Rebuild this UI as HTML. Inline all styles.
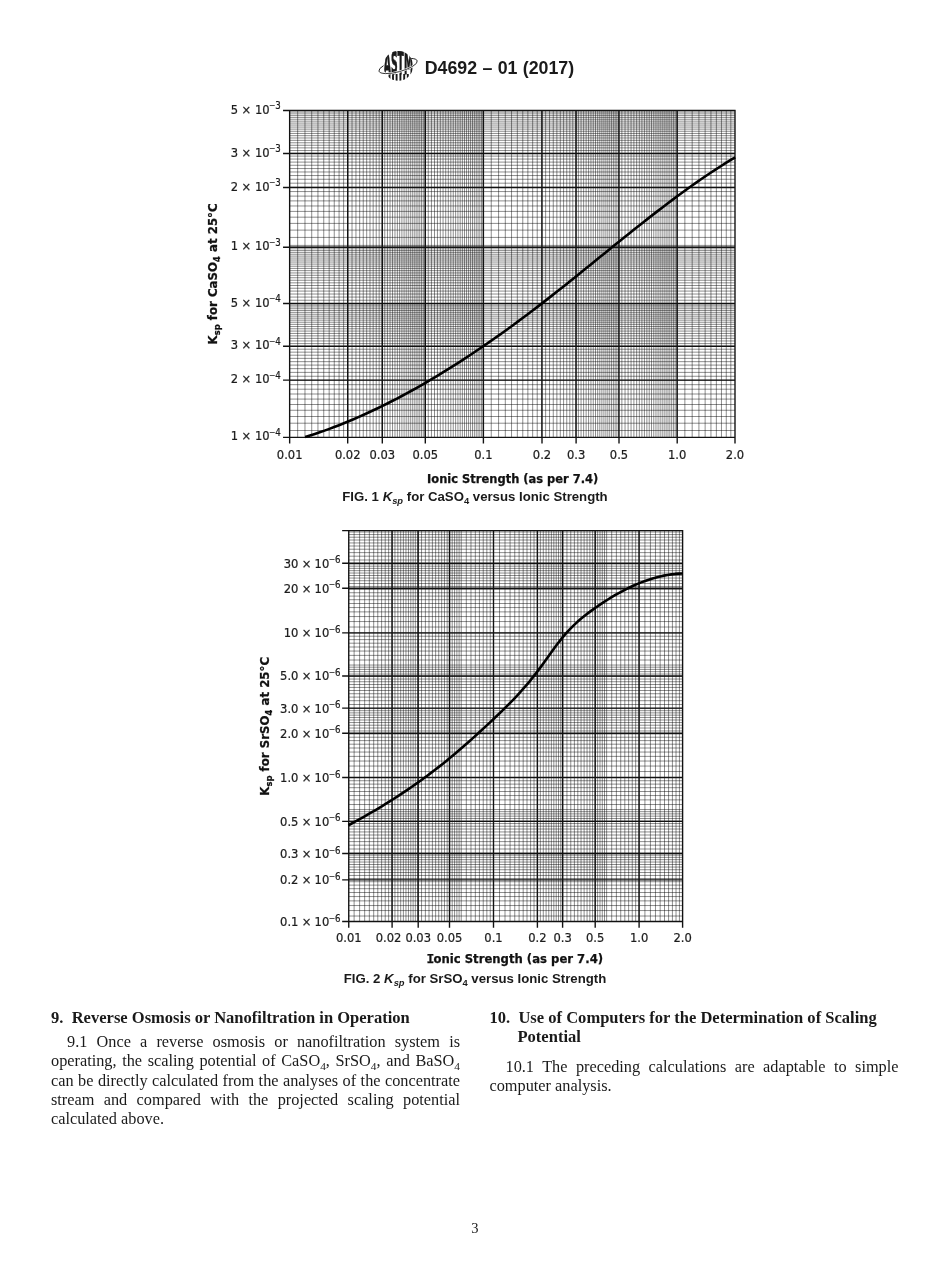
<!DOCTYPE html>
<html lang="en">
<head>
<meta charset="utf-8">
<title>D4692 - 01 (2017)</title>
<style>
html,body{margin:0;padding:0;background:#fff;}
body{width:950px;height:1272px;position:relative;overflow:hidden;font-family:"Liberation Serif",serif;color:#1a1a1a;}
.figs{position:absolute;left:0;top:0;}
.tk{font-family:"DejaVu Sans Condensed","DejaVu Sans","Liberation Sans",sans-serif;font-size:12.8px;fill:#1c1c1c;stroke:#1c1c1c;stroke-width:0.22px;}
.sp{font-size:9.6px;}
.mn{font-family:"Liberation Sans",sans-serif;}
.mi{font-family:"DejaVu Sans Mono","DejaVu Sans",sans-serif;}
.sb{font-size:9.4px;}
.ax{font-family:"DejaVu Sans Condensed","DejaVu Sans","Liberation Sans",sans-serif;font-weight:bold;font-size:13.1px;fill:#111;stroke:#111;stroke-width:0.25px;}
.hdr{position:absolute;left:424.7px;top:57.6px;word-spacing:0.4px;font-family:"Liberation Sans",sans-serif;font-weight:bold;font-size:17.8px;line-height:20px;white-space:nowrap;color:#1a1a1a;}
.logo{position:absolute;left:374px;top:48px;width:50px;height:36px;line-height:0;}
.cap{position:absolute;left:0;width:950px;text-align:center;font-family:"Liberation Sans",sans-serif;font-weight:bold;font-size:13.2px;line-height:14px;color:#1a1a1a;white-space:nowrap;}
.cap sub{font-size:9.4px;vertical-align:baseline;position:relative;top:2.5px;line-height:0;}
.col{position:absolute;font-size:16.3px;line-height:19.2px;}
.col h2{margin:0;font-size:16.55px;line-height:19.2px;font-weight:bold;}
.col p{margin:0;}
.ln{display:block;text-align:justify;text-align-last:justify;white-space:nowrap;}
.ln.last{text-align-last:left;}
.col sub{font-size:11.4px;vertical-align:baseline;position:relative;top:3.5px;line-height:0;}
.pg{position:absolute;left:0;width:949.6px;top:1220.6px;text-align:center;font-size:14.5px;line-height:15px;}
</style>
</head>
<body>
<div class="logo"><svg width="50" height="36" viewBox="374 48 50 36">
<defs><clipPath id="gl"><ellipse cx="398.3" cy="65.9" rx="14.7" ry="14.9"/></clipPath></defs>
<ellipse cx="398.1" cy="66.0" rx="19.8" ry="5.8" transform="rotate(-15 398.1 66.0)" fill="none" stroke="#222" stroke-width="0.9"/>
<ellipse cx="398.3" cy="65.9" rx="14.7" ry="14.9" fill="#fff"/>
<g clip-path="url(#gl)">
<text x="383.8" y="74.2" textLength="29.3" lengthAdjust="spacingAndGlyphs" font-family="'DejaVu Sans Condensed','DejaVu Sans','Liberation Sans',sans-serif" font-weight="bold" font-size="32" fill="#1a1a1a" stroke="#1a1a1a" stroke-width="0.9">ASTM</text>
<path d="M389.5 74V82M393 74V82M396.6 74V82M400.4 74V82M404.2 74V82M407.8 74V82" stroke="#1a1a1a" stroke-width="1.9" fill="none"/>
</g>
<path d="M378.97 71.12A19.8 5.8 -15 0 0 417.23 60.88" fill="none" stroke="#fff" stroke-width="2.2"/>
<path d="M378.97 71.12A19.8 5.8 -15 0 0 417.23 60.88" fill="none" stroke="#222" stroke-width="0.9"/>
</svg>
</div>
<div class="hdr">D4692 – 01 (2017)</div>
<svg class="figs" width="950" height="1000" viewBox="0 0 950 1000">
<g shape-rendering="auto">
<path d="M297.66 110.5V437.4M304.98 110.5V437.4M311.71 110.5V437.4M317.94 110.5V437.4M323.74 110.5V437.4M329.17 110.5V437.4M334.26 110.5V437.4M339.07 110.5V437.4M343.62 110.5V437.4M347.93 110.5V437.4M352.03 110.5V437.4M355.94 110.5V437.4M359.68 110.5V437.4M363.26 110.5V437.4M366.69 110.5V437.4M369.99 110.5V437.4M373.16 110.5V437.4M376.22 110.5V437.4M379.17 110.5V437.4M382.02 110.5V437.4M384.78 110.5V437.4M387.45 110.5V437.4M390.03 110.5V437.4M392.54 110.5V437.4M394.98 110.5V437.4M397.35 110.5V437.4M399.65 110.5V437.4M401.9 110.5V437.4M404.08 110.5V437.4M406.21 110.5V437.4M408.28 110.5V437.4M410.31 110.5V437.4M412.29 110.5V437.4M414.22 110.5V437.4M416.11 110.5V437.4M417.96 110.5V437.4M419.77 110.5V437.4M421.54 110.5V437.4M423.27 110.5V437.4M424.97 110.5V437.4M428.27 110.5V437.4M431.44 110.5V437.4M434.5 110.5V437.4M437.45 110.5V437.4M440.3 110.5V437.4M443.06 110.5V437.4M445.73 110.5V437.4M448.31 110.5V437.4M450.82 110.5V437.4M453.26 110.5V437.4M455.63 110.5V437.4M457.93 110.5V437.4M460.18 110.5V437.4M462.36 110.5V437.4M464.49 110.5V437.4M466.56 110.5V437.4M468.59 110.5V437.4M470.57 110.5V437.4M472.5 110.5V437.4M474.39 110.5V437.4M476.24 110.5V437.4M478.05 110.5V437.4M479.82 110.5V437.4M481.55 110.5V437.4M483.25 110.5V437.4M491.26 110.5V437.4M498.58 110.5V437.4M505.31 110.5V437.4M511.54 110.5V437.4M517.34 110.5V437.4M522.77 110.5V437.4M527.86 110.5V437.4M532.67 110.5V437.4M537.22 110.5V437.4M541.53 110.5V437.4M545.63 110.5V437.4M549.54 110.5V437.4M553.28 110.5V437.4M556.86 110.5V437.4M560.29 110.5V437.4M563.59 110.5V437.4M566.76 110.5V437.4M569.82 110.5V437.4M572.77 110.5V437.4M575.62 110.5V437.4M578.38 110.5V437.4M581.05 110.5V437.4M583.63 110.5V437.4M586.14 110.5V437.4M588.58 110.5V437.4M590.95 110.5V437.4M593.25 110.5V437.4M595.5 110.5V437.4M597.68 110.5V437.4M599.81 110.5V437.4M601.88 110.5V437.4M603.91 110.5V437.4M605.89 110.5V437.4M607.82 110.5V437.4M609.71 110.5V437.4M611.56 110.5V437.4M613.37 110.5V437.4M615.14 110.5V437.4M616.87 110.5V437.4M618.57 110.5V437.4M621.87 110.5V437.4M625.04 110.5V437.4M628.1 110.5V437.4M631.05 110.5V437.4M633.9 110.5V437.4M636.66 110.5V437.4M639.33 110.5V437.4M641.91 110.5V437.4M644.42 110.5V437.4M646.86 110.5V437.4M649.23 110.5V437.4M651.53 110.5V437.4M653.78 110.5V437.4M655.96 110.5V437.4M658.09 110.5V437.4M660.16 110.5V437.4M662.19 110.5V437.4M664.17 110.5V437.4M666.1 110.5V437.4M667.99 110.5V437.4M669.84 110.5V437.4M671.65 110.5V437.4M673.42 110.5V437.4M675.15 110.5V437.4M676.85 110.5V437.4M684.86 110.5V437.4M692.18 110.5V437.4M698.91 110.5V437.4M705.14 110.5V437.4M710.94 110.5V437.4M716.37 110.5V437.4M721.46 110.5V437.4M726.27 110.5V437.4M730.82 110.5V437.4M289.65 430.51H735M289.65 423.21H735M289.65 416.5H735M289.65 410.28H735M289.65 404.5H735M289.65 399.08H735M289.65 394H735M289.65 389.21H735M289.65 384.67H735M289.65 380.37H735M289.65 376.28H735M289.65 372.38H735M289.65 368.65H735M289.65 365.08H735M289.65 361.66H735M289.65 358.37H735M289.65 355.2H735M289.65 352.15H735M289.65 349.21H735M289.65 346.37H735M289.65 343.62H735M289.65 340.96H735M289.65 338.37H735M289.65 335.87H735M289.65 333.44H735M289.65 331.08H735M289.65 328.78H735M289.65 326.54H735M289.65 324.37H735M289.65 322.24H735M289.65 320.17H735M289.65 318.15H735M289.65 316.18H735M289.65 314.25H735M289.65 312.36H735M289.65 310.52H735M289.65 308.72H735M289.65 306.95H735M289.65 305.22H735M289.65 303.53H735M289.65 300.24H735M289.65 297.07H735M289.65 294.02H735M289.65 291.08H735M289.65 288.24H735M289.65 285.49H735M289.65 282.83H735M289.65 280.25H735M289.65 277.74H735M289.65 275.31H735M289.65 272.95H735M289.65 270.65H735M289.65 268.41H735M289.65 266.24H735M289.65 264.11H735M289.65 262.04H735M289.65 260.02H735M289.65 258.05H735M289.65 256.12H735M289.65 254.24H735M289.65 252.39H735M289.65 250.59H735M289.65 248.82H735M289.65 247.09H735M289.65 245.4H735M289.65 237.41H735M289.65 230.11H735M289.65 223.4H735M289.65 217.18H735M289.65 211.4H735M289.65 205.98H735M289.65 200.9H735M289.65 196.11H735M289.65 191.57H735M289.65 187.27H735M289.65 183.18H735M289.65 179.28H735M289.65 175.55H735M289.65 171.98H735M289.65 168.56H735M289.65 165.27H735M289.65 162.1H735M289.65 159.05H735M289.65 156.11H735M289.65 153.27H735M289.65 150.52H735M289.65 147.86H735M289.65 145.27H735M289.65 142.77H735M289.65 140.34H735M289.65 137.98H735M289.65 135.68H735M289.65 133.44H735M289.65 131.27H735M289.65 129.14H735M289.65 127.07H735M289.65 125.05H735M289.65 123.08H735M289.65 121.15H735M289.65 119.26H735M289.65 117.42H735M289.65 115.62H735M289.65 113.85H735M289.65 112.12H735" fill="none" stroke="#000" stroke-width="0.45"/>
<path d="M289.65 109.9V443.4M347.7 109.9V443.4M382.3 109.9V443.4M425.3 109.9V443.4M483.4 109.9V443.4M542 109.9V443.4M576.1 109.9V443.4M619 109.9V443.4M677.2 109.9V443.4M735 109.9V443.4M283.05 437.4H735.6M283.05 380.1H735.6M283.05 346.3H735.6M283.05 303.5H735.6M283.05 247.3H735.6M283.05 187.5H735.6M283.05 153.5H735.6M283.05 110.5H735.6" fill="none" stroke="#111" stroke-width="1.38"/>
<path d="M305.2 437.09L310.03 435.56L314.86 433.97L319.69 432.33L324.53 430.63L329.36 428.87L334.19 427.05L339.02 425.18L343.85 423.25L348.68 421.26L353.51 419.23L358.35 417.13L363.18 414.99L368.01 412.79L372.84 410.54L377.67 408.24L382.5 405.89L387.33 403.49L392.17 401.03L397 398.53L401.83 395.98L406.66 393.39L411.49 390.74L416.32 388.05L421.16 385.31L425.99 382.52L430.82 379.69L435.65 376.82L440.48 373.9L445.31 370.93L450.14 367.93L454.98 364.88L459.81 361.79L464.64 358.66L469.47 355.49L474.3 352.27L479.13 349.02L483.96 345.73L488.8 342.4L493.63 339.03L498.46 335.63L503.29 332.19L508.12 328.71L512.95 325.19L517.78 321.65L522.62 318.06L527.45 314.45L532.28 310.79L537.11 307.11L541.94 303.4L546.77 299.65L551.6 295.87L556.44 292.07L561.27 288.24L566.1 284.4L570.93 280.53L575.76 276.65L580.59 272.76L585.42 268.85L590.26 264.94L595.09 261.02L599.92 257.11L604.75 253.19L609.58 249.27L614.41 245.36L619.24 241.46L624.08 237.57L628.91 233.7L633.74 229.84L638.57 226L643.4 222.18L648.23 218.38L653.07 214.62L657.9 210.88L662.73 207.17L667.56 203.51L672.39 199.87L677.22 196.28L682.05 192.74L686.89 189.23L691.72 185.78L696.55 182.38L701.38 179.03L706.21 175.74L711.04 172.51L715.87 169.34L720.71 166.23L725.54 163.2L730.37 160.23L735.2 157.33" fill="none" stroke="#000" stroke-width="2.6" stroke-linejoin="round"/>
<path d="M354.12 530.6V921.5M359.61 530.6V921.5M364.67 530.6V921.5M369.35 530.6V921.5M373.7 530.6V921.5M377.78 530.6V921.5M381.61 530.6V921.5M385.22 530.6V921.5M388.63 530.6V921.5M391.87 530.6V921.5M394.95 530.6V921.5M397.89 530.6V921.5M400.7 530.6V921.5M403.38 530.6V921.5M405.96 530.6V921.5M408.44 530.6V921.5M410.82 530.6V921.5M413.12 530.6V921.5M415.33 530.6V921.5M417.47 530.6V921.5M421.55 530.6V921.5M425.38 530.6V921.5M428.99 530.6V921.5M432.4 530.6V921.5M435.64 530.6V921.5M438.72 530.6V921.5M441.66 530.6V921.5M444.46 530.6V921.5M447.15 530.6V921.5M449.73 530.6V921.5M452.21 530.6V921.5M454.59 530.6V921.5M456.89 530.6V921.5M459.1 530.6V921.5M461.24 530.6V921.5M466.3 530.6V921.5M470.98 530.6V921.5M475.33 530.6V921.5M479.41 530.6V921.5M483.24 530.6V921.5M486.85 530.6V921.5M490.26 530.6V921.5M493.5 530.6V921.5M499.52 530.6V921.5M505.01 530.6V921.5M510.07 530.6V921.5M514.75 530.6V921.5M519.1 530.6V921.5M523.18 530.6V921.5M527.01 530.6V921.5M530.62 530.6V921.5M534.03 530.6V921.5M537.27 530.6V921.5M540.35 530.6V921.5M543.29 530.6V921.5M546.1 530.6V921.5M548.78 530.6V921.5M551.36 530.6V921.5M553.84 530.6V921.5M556.22 530.6V921.5M558.52 530.6V921.5M560.73 530.6V921.5M562.87 530.6V921.5M566.95 530.6V921.5M570.78 530.6V921.5M574.39 530.6V921.5M577.8 530.6V921.5M581.04 530.6V921.5M584.12 530.6V921.5M587.06 530.6V921.5M589.86 530.6V921.5M592.55 530.6V921.5M595.13 530.6V921.5M597.61 530.6V921.5M599.99 530.6V921.5M602.29 530.6V921.5M604.5 530.6V921.5M606.64 530.6V921.5M611.7 530.6V921.5M616.38 530.6V921.5M620.73 530.6V921.5M624.81 530.6V921.5M628.64 530.6V921.5M632.25 530.6V921.5M635.66 530.6V921.5M638.9 530.6V921.5M644.92 530.6V921.5M650.41 530.6V921.5M655.47 530.6V921.5M660.15 530.6V921.5M664.5 530.6V921.5M668.58 530.6V921.5M672.41 530.6V921.5M676.02 530.6V921.5M679.43 530.6V921.5M348.75 916.02H682.6M348.75 910.56H682.6M348.75 905.54H682.6M348.75 900.88H682.6M348.75 896.55H682.6M348.75 892.5H682.6M348.75 888.7H682.6M348.75 885.11H682.6M348.75 881.72H682.6M348.75 878.5H682.6M348.75 875.44H682.6M348.75 872.52H682.6M348.75 869.73H682.6M348.75 867.06H682.6M348.75 864.5H682.6M348.75 862.04H682.6M348.75 859.67H682.6M348.75 857.39H682.6M348.75 855.18H682.6M348.75 853.06H682.6M348.75 849.01H682.6M348.75 845.2H682.6M348.75 841.61H682.6M348.75 838.22H682.6M348.75 835H682.6M348.75 831.94H682.6M348.75 829.02H682.6M348.75 826.23H682.6M348.75 823.56H682.6M348.75 821H682.6M348.75 818.54H682.6M348.75 816.17H682.6M348.75 813.89H682.6M348.75 811.68H682.6M348.75 809.56H682.6M348.75 804.53H682.6M348.75 799.88H682.6M348.75 795.55H682.6M348.75 791.5H682.6M348.75 787.7H682.6M348.75 784.11H682.6M348.75 780.72H682.6M348.75 777.5H682.6M348.75 771.52H682.6M348.75 766.06H682.6M348.75 761.04H682.6M348.75 756.38H682.6M348.75 752.05H682.6M348.75 748H682.6M348.75 744.2H682.6M348.75 740.61H682.6M348.75 737.22H682.6M348.75 734H682.6M348.75 730.94H682.6M348.75 728.02H682.6M348.75 725.23H682.6M348.75 722.56H682.6M348.75 720H682.6M348.75 717.54H682.6M348.75 715.17H682.6M348.75 712.89H682.6M348.75 710.68H682.6M348.75 708.56H682.6M348.75 704.51H682.6M348.75 700.7H682.6M348.75 697.11H682.6M348.75 693.72H682.6M348.75 690.5H682.6M348.75 687.44H682.6M348.75 684.52H682.6M348.75 681.73H682.6M348.75 679.06H682.6M348.75 676.5H682.6M348.75 674.04H682.6M348.75 671.67H682.6M348.75 669.39H682.6M348.75 667.18H682.6M348.75 665.06H682.6M348.75 660.03H682.6M348.75 655.38H682.6M348.75 651.05H682.6M348.75 647H682.6M348.75 643.2H682.6M348.75 639.61H682.6M348.75 636.22H682.6M348.75 633H682.6M348.75 627.02H682.6M348.75 621.56H682.6M348.75 616.54H682.6M348.75 611.88H682.6M348.75 607.55H682.6M348.75 603.5H682.6M348.75 599.7H682.6M348.75 596.11H682.6M348.75 592.72H682.6M348.75 589.5H682.6M348.75 586.44H682.6M348.75 583.52H682.6M348.75 580.73H682.6M348.75 578.06H682.6M348.75 575.5H682.6M348.75 573.04H682.6M348.75 570.67H682.6M348.75 568.39H682.6M348.75 566.18H682.6M348.75 564.06H682.6M348.75 560.01H682.6M348.75 556.2H682.6M348.75 552.61H682.6M348.75 549.22H682.6M348.75 546H682.6M348.75 542.94H682.6M348.75 540.02H682.6M348.75 537.23H682.6M348.75 534.56H682.6M348.75 532H682.6" fill="none" stroke="#000" stroke-width="0.45"/>
<path d="M348.75 530V927.7M392.1 530V927.7M418.2 530V927.7M449.5 530V927.7M493.5 530V927.7M537.4 530V927.7M562.6 530V927.7M595.2 530V927.7M639.1 530V927.7M682.6 530V927.7M342.15 921.5H683.2M342.15 879.9H683.2M342.15 853.5H683.2M342.15 821.4H683.2M342.15 777.5H683.2M342.15 733.2H683.2M342.15 708.1H683.2M342.15 676H683.2M342.15 632.9H683.2M342.15 588.3H683.2M342.15 563.2H683.2M342.15 530.6H683.2" fill="none" stroke="#111" stroke-width="1.38"/>
<path d="M348.4 825.24L352.16 823.23L355.91 821.19L359.67 819.12L363.42 817.02L367.18 814.89L370.93 812.73L374.69 810.53L378.44 808.3L382.2 806.03L385.95 803.73L389.71 801.39L393.46 799.01L397.22 796.59L400.97 794.13L404.73 791.63L408.48 789.09L412.24 786.5L415.99 783.87L419.75 781.2L423.5 778.48L427.26 775.71L431.01 772.9L434.77 770.03L438.52 767.12L442.28 764.16L446.03 761.14L449.79 758.08L453.54 754.96L457.3 751.78L461.05 748.57L464.81 745.3L468.56 741.99L472.32 738.64L476.07 735.25L479.83 731.83L483.58 728.37L487.34 724.88L491.09 721.36L494.85 717.82L498.6 714.24L502.36 710.62L506.11 706.93L509.87 703.17L513.62 699.3L517.38 695.32L521.13 691.21L524.89 686.96L528.64 682.54L532.4 677.94L536.15 673.15L539.91 668.14L543.66 662.97L547.42 657.72L551.17 652.47L554.93 647.31L558.68 642.32L562.44 637.59L566.19 633.19L569.95 629.12L573.7 625.36L577.46 621.85L581.21 618.58L584.97 615.51L588.72 612.61L592.48 609.85L596.23 607.19L599.99 604.62L603.74 602.13L607.5 599.73L611.25 597.41L615.01 595.19L618.76 593.06L622.52 591.02L626.27 589.09L630.03 587.25L633.78 585.52L637.54 583.89L641.29 582.37L645.05 580.96L648.8 579.66L652.56 578.48L656.31 577.41L660.07 576.47L663.82 575.64L667.58 574.94L671.33 574.37L675.09 573.92L678.84 573.61L682.6 573.43" fill="none" stroke="#000" stroke-width="2.6" stroke-linejoin="round"/>
</g>
<g>
<text x="280.7" y="440.4" text-anchor="end" class="tk" style="word-spacing:0px">1 × 10<tspan class="sp" dy="-4.4"><tspan class="mn">−</tspan>4</tspan></text>
<text x="280.7" y="383.1" text-anchor="end" class="tk" style="word-spacing:0px">2 × 10<tspan class="sp" dy="-4.4"><tspan class="mn">−</tspan>4</tspan></text>
<text x="280.7" y="349.3" text-anchor="end" class="tk" style="word-spacing:0px">3 × 10<tspan class="sp" dy="-4.4"><tspan class="mn">−</tspan>4</tspan></text>
<text x="280.7" y="306.5" text-anchor="end" class="tk" style="word-spacing:0px">5 × 10<tspan class="sp" dy="-4.4"><tspan class="mn">−</tspan>4</tspan></text>
<text x="280.7" y="250.3" text-anchor="end" class="tk" style="word-spacing:0px">1 × 10<tspan class="sp" dy="-4.4"><tspan class="mn">−</tspan>3</tspan></text>
<text x="280.7" y="190.5" text-anchor="end" class="tk" style="word-spacing:0px">2 × 10<tspan class="sp" dy="-4.4"><tspan class="mn">−</tspan>3</tspan></text>
<text x="280.7" y="156.5" text-anchor="end" class="tk" style="word-spacing:0px">3 × 10<tspan class="sp" dy="-4.4"><tspan class="mn">−</tspan>3</tspan></text>
<text x="280.7" y="113.5" text-anchor="end" class="tk" style="word-spacing:0px">5 × 10<tspan class="sp" dy="-4.4"><tspan class="mn">−</tspan>3</tspan></text>
<text x="289.65" y="459.3" text-anchor="middle" class="tk">0.01</text>
<text x="347.7" y="459.3" text-anchor="middle" class="tk">0.02</text>
<text x="382.3" y="459.3" text-anchor="middle" class="tk">0.03</text>
<text x="425.3" y="459.3" text-anchor="middle" class="tk">0.05</text>
<text x="483.4" y="459.3" text-anchor="middle" class="tk">0.1</text>
<text x="542" y="459.3" text-anchor="middle" class="tk">0.2</text>
<text x="576.1" y="459.3" text-anchor="middle" class="tk">0.3</text>
<text x="619" y="459.3" text-anchor="middle" class="tk">0.5</text>
<text x="677.2" y="459.3" text-anchor="middle" class="tk">1.0</text>
<text x="735" y="459.3" text-anchor="middle" class="tk">2.0</text>
<text x="512.7" y="482.7" text-anchor="middle" class="ax" textLength="171.3" lengthAdjust="spacingAndGlyphs">Ionic Strength (as per 7.4)</text>
<text transform="translate(217.1 273.9) rotate(-90)" text-anchor="middle" class="ax">K<tspan class="sb" dy="3">sp</tspan><tspan dy="-3"> for CaSO</tspan><tspan class="sb" dy="3">4</tspan><tspan dy="-3"> at 25°C</tspan></text>
<text x="340.4" y="925.9" text-anchor="end" class="tk" style="word-spacing:-0.35px">0.1 × 10<tspan class="sp" dy="-4.4"><tspan class="mn">−</tspan>6</tspan></text>
<text x="340.4" y="884.3" text-anchor="end" class="tk" style="word-spacing:-0.35px">0.2 × 10<tspan class="sp" dy="-4.4"><tspan class="mn">−</tspan>6</tspan></text>
<text x="340.4" y="857.9" text-anchor="end" class="tk" style="word-spacing:-0.35px">0.3 × 10<tspan class="sp" dy="-4.4"><tspan class="mn">−</tspan>6</tspan></text>
<text x="340.4" y="825.8" text-anchor="end" class="tk" style="word-spacing:-0.35px">0.5 × 10<tspan class="sp" dy="-4.4"><tspan class="mn">−</tspan>6</tspan></text>
<text x="340.4" y="781.9" text-anchor="end" class="tk" style="word-spacing:-0.35px">1.0 × 10<tspan class="sp" dy="-4.4"><tspan class="mn">−</tspan>6</tspan></text>
<text x="340.4" y="737.6" text-anchor="end" class="tk" style="word-spacing:-0.35px">2.0 × 10<tspan class="sp" dy="-4.4"><tspan class="mn">−</tspan>6</tspan></text>
<text x="340.4" y="712.5" text-anchor="end" class="tk" style="word-spacing:-0.35px">3.0 × 10<tspan class="sp" dy="-4.4"><tspan class="mn">−</tspan>6</tspan></text>
<text x="340.4" y="680.4" text-anchor="end" class="tk" style="word-spacing:-0.35px">5.0 × 10<tspan class="sp" dy="-4.4"><tspan class="mn">−</tspan>6</tspan></text>
<text x="340.4" y="637.3" text-anchor="end" class="tk" style="word-spacing:-0.35px">10 × 10<tspan class="sp" dy="-4.4"><tspan class="mn">−</tspan>6</tspan></text>
<text x="340.4" y="592.7" text-anchor="end" class="tk" style="word-spacing:-0.35px">20 × 10<tspan class="sp" dy="-4.4"><tspan class="mn">−</tspan>6</tspan></text>
<text x="340.4" y="567.6" text-anchor="end" class="tk" style="word-spacing:-0.35px">30 × 10<tspan class="sp" dy="-4.4"><tspan class="mn">−</tspan>6</tspan></text>
<text x="348.75" y="941.9" text-anchor="middle" class="tk">0.01</text>
<text x="388.6" y="941.9" text-anchor="middle" class="tk">0.02</text>
<text x="418.2" y="941.9" text-anchor="middle" class="tk">0.03</text>
<text x="449.5" y="941.9" text-anchor="middle" class="tk">0.05</text>
<text x="493.5" y="941.9" text-anchor="middle" class="tk">0.1</text>
<text x="537.4" y="941.9" text-anchor="middle" class="tk">0.2</text>
<text x="562.6" y="941.9" text-anchor="middle" class="tk">0.3</text>
<text x="595.2" y="941.9" text-anchor="middle" class="tk">0.5</text>
<text x="639.1" y="941.9" text-anchor="middle" class="tk">1.0</text>
<text x="682.6" y="941.9" text-anchor="middle" class="tk">2.0</text>
<text x="515.7" y="963" text-anchor="middle" class="ax" textLength="176.6" lengthAdjust="spacingAndGlyphs"><tspan class="mi" dx="-0.9">I</tspan><tspan dx="-0.9">onic Strength (as per 7.4)</tspan></text>
<text transform="translate(268.9 726.3) rotate(-90)" text-anchor="middle" class="ax">K<tspan class="sb" dy="3">sp</tspan><tspan dy="-3"> for SrSO</tspan><tspan class="sb" dy="3">4</tspan><tspan dy="-3"> at 25°C</tspan></text>
</g>
</svg>
<div class="cap" style="top:490px;left:0"><span style="position:relative;left:0px">FIG. 1 <i>K<sub>sp</sub></i> for CaSO<sub>4</sub> versus Ionic Strength</span></div>
<div class="cap" style="top:972px;left:0"><span style="position:relative;left:0px">FIG. 2 <i>K<sub>sp</sub></i> for SrSO<sub>4</sub> versus Ionic Strength</span></div>
<div class="col" style="left:51px;top:1008px;width:409px;">
<h2>9.&nbsp; Reverse Osmosis or Nanofiltration in Operation</h2>
<p style="margin-top:5px">
<span class="ln" style="padding-left:16px">9.1 Once a reverse osmosis or nanofiltration system is</span>
<span class="ln">operating, the scaling potential of CaSO<sub>4</sub>, SrSO<sub>4</sub>, and BaSO<sub>4</sub></span>
<span class="ln">can be directly calculated from the analyses of the concentrate</span>
<span class="ln">stream and compared with the projected scaling potential</span>
<span class="ln last">calculated above.</span>
</p>
</div>
<div class="col" style="left:489.5px;top:1008px;width:409px;">
<h2 style="padding-left:28px;text-indent:-28px">10.&nbsp; Use of Computers for the Determination of Scaling Potential</h2>
<p style="margin-top:10.5px">
<span class="ln" style="padding-left:16px">10.1 The preceding calculations are adaptable to simple</span>
<span class="ln last">computer analysis.</span>
</p>
</div>
<div class="pg">3</div>
</body>
</html>
